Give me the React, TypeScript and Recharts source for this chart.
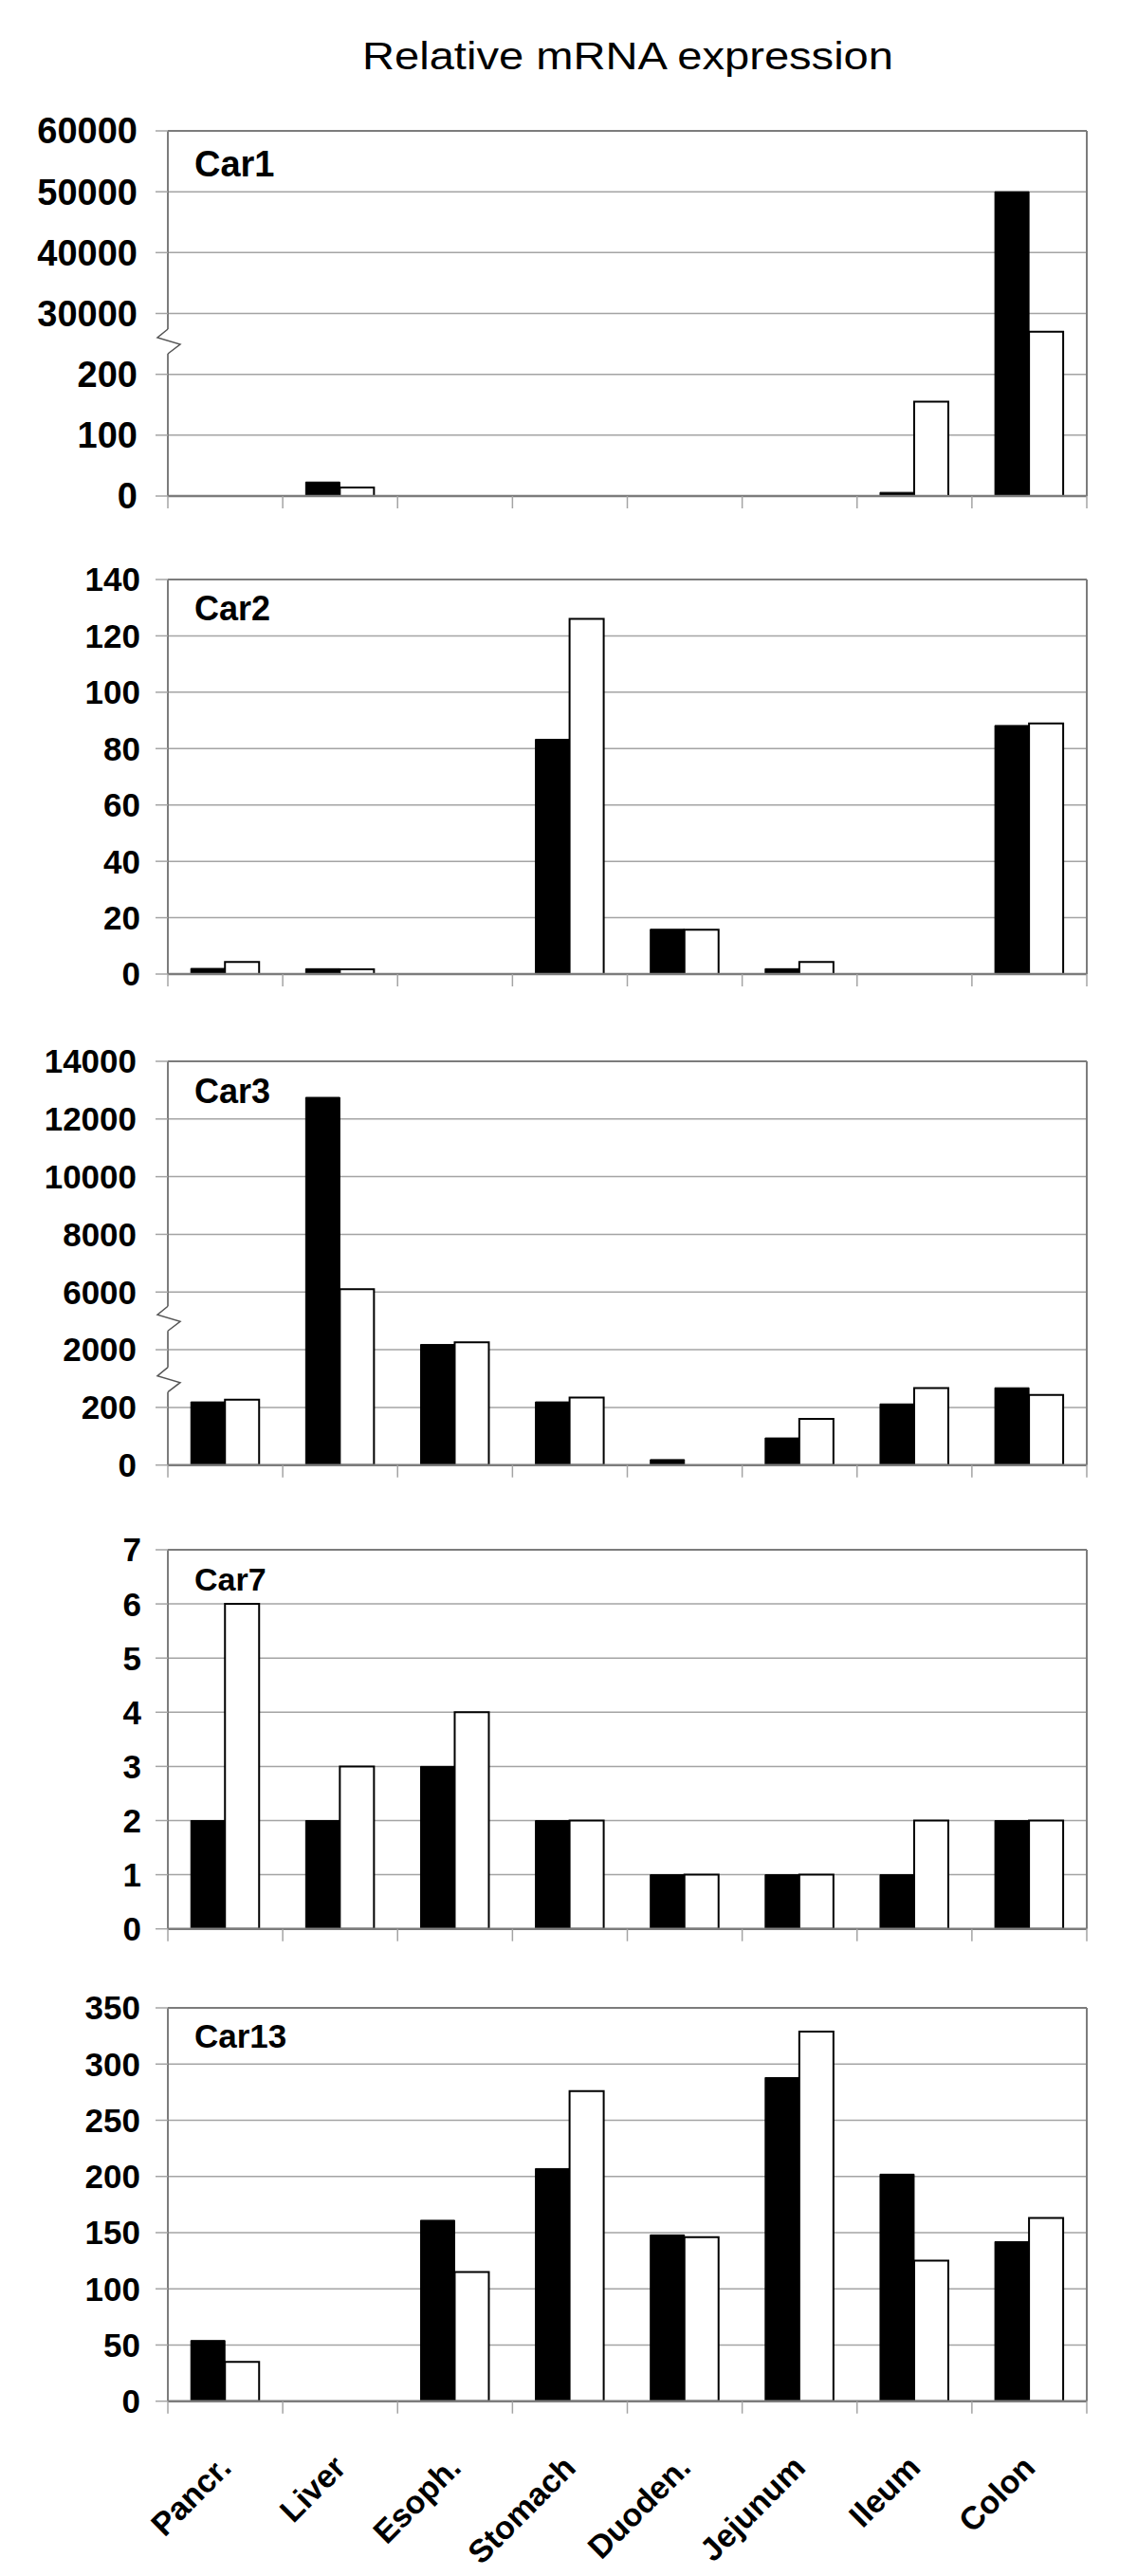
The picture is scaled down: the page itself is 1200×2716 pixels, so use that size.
import React from 'react';
import { BarChart, Bar, XAxis, YAxis, CartesianGrid, ReferenceLine } from 'recharts';

// tissues along the x axis, same for every panel
const tissues = ['Pancr.', 'Liver', 'Esoph.', 'Stomach', 'Duoden.', 'Jejunum', 'Ileum', 'Colon'];

// Car1 (broken axis: 0-200 below the break, 30000-60000 above)
const car1Black = [0, 23, 0, 0, 0, 0, 6, 50000];
const car1White = [0, 14, 0, 0, 0, 0, 155, 27000];
const car1Ticks = ['0', '100', '200', '30000', '40000', '50000', '60000'];

// Car2
const car2Black = [2, 1.9, 0, 83.3, 15.9, 1.9, 0, 88.2];
const car2White = [4.3, 1.7, 0, 126, 15.7, 4.3, 0, 88.9];
const car2Ticks = ['0', '20', '40', '60', '80', '100', '120', '140'];

// Car3 (two breaks: 0-200 | 2000 | 6000-14000)
const car3Black = [219, 12750, 2090, 219, 19, 94, 212, 268];
const car3White = [227, 6100, 2130, 234, 0, 160, 267, 243];
const car3Ticks = ['0', '200', '2000', '6000', '8000', '10000', '12000', '14000'];

// Car7
const car7Black = [2, 2, 3, 2, 1, 1, 1, 2];
const car7White = [6, 3, 4, 2, 1, 1, 2, 2];
const car7Ticks = ['0', '1', '2', '3', '4', '5', '6', '7'];

// Car13
const car13Black = [54, 0, 161, 207, 148, 288, 202, 142];
const car13White = [35, 0, 115, 276, 146, 329, 125, 163];
const car13Ticks = ['0', '50', '100', '150', '200', '250', '300', '350'];

// value -> axis level (one level per grid line)
const car1Level = (v: number) => (v <= 1000 ? v / 100 : v / 10000);
const car3Level = (v: number) => (v < 1000 ? v / 200 : v < 5000 ? v / 1000 : v / 2000);

const FONT = '"Liberation Sans", Arial, sans-serif';
const GRID = '#a4a4a4';
const FRAME = '#7c7c7c';
const CHART_W = 1200;
const M_LEFT = 77;
const Y_W = 100;
const M_RIGHT = 54;
const M_TOP = 30;
const PLOT_W = CHART_W - M_LEFT - Y_W - M_RIGHT;

const panels = [
  { name: 'Car1', black: car1Black, white: car1White, ticks: car1Ticks, level: car1Level, breaks: [2.54], top: 138.3, h: 385, tickFont: 38, tickMargin: 19, labelFont: 38, labelY: 186 },
  { name: 'Car2', black: car2Black, white: car2White, ticks: car2Ticks, level: (v: number) => v / 20, breaks: [], top: 610.7, h: 416, tickFont: 35, tickMargin: 16, labelFont: 36, labelY: 654 },
  { name: 'Car3', black: car3Black, white: car3White, ticks: car3Ticks, level: car3Level, breaks: [1.48, 2.54], top: 1119.3, h: 425.7, tickFont: 35, tickMargin: 20, labelFont: 36, labelY: 1163 },
  { name: 'Car7', black: car7Black, white: car7White, ticks: car7Ticks, level: (v: number) => v, breaks: [], top: 1634.3, h: 399.7, tickFont: 35, tickMargin: 15, labelFont: 34, labelY: 1677 },
  { name: 'Car13', black: car13Black, white: car13White, ticks: car13Ticks, level: (v: number) => v / 50, breaks: [], top: 2117.3, h: 414.7, tickFont: 35, tickMargin: 16, labelFont: 35, labelY: 2159 },
];

function makeTick(showLabel: boolean) {
  const half = PLOT_W / tissues.length / 2;
  return (props: any) => {
    const { x, y, payload, index } = props;
    const last = index === tissues.length - 1;
    const lx = x + 8;
    const ly = y + 72;
    return (
      <g>
        <line x1={x - half} y1={y} x2={x - half} y2={y + 13} stroke={GRID} strokeWidth={1.5} />
        {last && <line x1={x + half} y1={y} x2={x + half} y2={y + 13} stroke={GRID} strokeWidth={1.5} />}
        {showLabel && (
          <text
            x={lx}
            y={ly}
            transform={`rotate(-45, ${lx}, ${ly})`}
            textAnchor="end"
            fontFamily={FONT}
            fontWeight={700}
            fontSize={34}
            fill="#000"
          >
            {payload.value}
          </text>
        )}
      </g>
    );
  };
}

const breakShape = (p: any) => {
  const x = p.x1;
  const y = p.y1;
  return (
    <g>
      <rect x={x - 3} y={y - 13} width={6} height={26} fill="#fff" />
      <polyline
        points={`${x},${y - 13} ${x - 11},${y - 4} ${x + 13},${y + 3} ${x},${y + 13}`}
        fill="none"
        stroke="#555"
        strokeWidth={1.5}
      />
    </g>
  );
};

function Panel({ cfg, last }: { cfg: (typeof panels)[number]; last: boolean }) {
  const rows = tissues.map((t, i) => ({
    tissue: t,
    black: cfg.level(cfg.black[i]),
    white: cfg.level(cfg.white[i]),
  }));
  const maxLevel = cfg.ticks.length - 1;
  const xh = last ? 180 : 20;
  return (
    <div style={{ position: 'absolute', left: 0, top: cfg.top - M_TOP }}>
      <BarChart
        width={CHART_W}
        height={M_TOP + cfg.h + xh}
        data={rows}
        margin={{ top: M_TOP, right: M_RIGHT, left: M_LEFT, bottom: 0 }}
        barCategoryGap="20%"
        barGap={0}
      >
        <CartesianGrid vertical={false} stroke={GRID} strokeWidth={1.5} />
        <XAxis
          dataKey="tissue"
          type="category"
          interval={0}
          height={xh}
          tickSize={0}
          tickMargin={0}
          tickLine={false}
          axisLine={{ stroke: FRAME, strokeWidth: 2.5 }}
          tick={makeTick(last)}
        />
        <YAxis
          type="number"
          width={Y_W}
          domain={[0, maxLevel]}
          ticks={cfg.ticks.map((_, i) => i)}
          interval={0}
          tickFormatter={(v: number) => cfg.ticks[v]}
          axisLine={false}
          tickSize={13}
          tickMargin={cfg.tickMargin}
          tickLine={{ stroke: GRID, strokeWidth: 1.5 }}
          tick={{ fill: '#000', fontSize: cfg.tickFont, fontWeight: 700, fontFamily: FONT }}
        />
        <Bar dataKey="black" fill="#000" stroke="#000" strokeWidth={1} isAnimationActive={false} />
        <Bar dataKey="white" fill="#fff" stroke="#000" strokeWidth={2} isAnimationActive={false} />
        <ReferenceLine y={maxLevel} stroke={FRAME} strokeWidth={2} />
        <ReferenceLine x={tissues[0]} position="start" stroke={FRAME} strokeWidth={2} />
        <ReferenceLine x={tissues[tissues.length - 1]} position="end" stroke={FRAME} strokeWidth={2} />
        {cfg.breaks.map((b) => (
          <ReferenceLine key={b} y={b} stroke="none" shape={breakShape} zIndex={3000} />
        ))}
      </BarChart>
    </div>
  );
}

export default function App() {
  return (
    <div style={{ position: 'absolute', left: 0, top: 0, width: 1200, height: 2716, background: '#fff', overflow: 'hidden' }}>
      {panels.map((p, i) => (
        <Panel key={p.name} cfg={p} last={i === panels.length - 1} />
      ))}
      <svg width={1200} height={2716} style={{ position: 'absolute', left: 0, top: 0, pointerEvents: 'none' }}>
        <text
          x={662}
          y={73}
          textAnchor="middle"
          fontFamily={FONT}
          fontSize={41}
          textLength={560}
          lengthAdjust="spacingAndGlyphs"
          fill="#000"
        >
          Relative mRNA expression
        </text>
        {panels.map((p) => (
          <text key={p.name} x={205} y={p.labelY} fontFamily={FONT} fontWeight={700} fontSize={p.labelFont} fill="#000">
            {p.name}
          </text>
        ))}
      </svg>
    </div>
  );
}
